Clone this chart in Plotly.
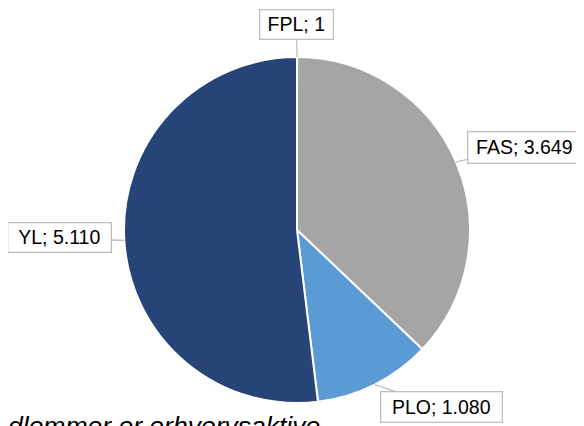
import math
import plotly.graph_objects as go

# Data
labels = ["FPL", "FAS", "PLO", "YL"]
values = [1, 3649, 1080, 5110]
value_text = ["1", "3.649", "1.080", "5.110"]
colors = ["#ED7D31", "#A5A5A5", "#5B9BD5", "#264478"]
footnote = "dlemmer er erhvervsaktive"

W, H = 584, 426
OFF = 8  # page body margin shifts the figure
# pie geometry (figure pixels)
cx, cy, r = 297 - OFF, 230 - OFF, 173
dom_x = [(cx - r) / W, (cx + r) / W]
dom_y = [1 - (cy + r) / H, 1 - (cy - r) / H]

# label boxes: centre (page px) and size
box_centres = [(296.5, 24.5), (524.5, 148), (441.5, 407), (59.5, 238)]
box_sizes = [(75, 31), (115, 33), (123, 32), (105, 31)]

fig = go.Figure(go.Pie(
    labels=labels, values=values, sort=False, direction="clockwise", rotation=0,
    marker=dict(colors=colors, line=dict(color="white", width=2)),
    textinfo="none", hoverinfo="label+value", showlegend=False,
    domain=dict(x=dom_x, y=dom_y),
))

total = sum(values)
cum = 0
annotations = []
for lab, v, vt, (bx, by), (bw, bh) in zip(labels, values, value_text, box_centres, box_sizes):
    mid = (cum + v / 2) / total * 2 * math.pi
    cum += v
    px = cx + r * math.sin(mid)
    py = cy - r * math.cos(mid)
    annotations.append(dict(
        x=px / W, y=1 - py / H, xref="paper", yref="paper",
        text=f"{lab}; {vt}", showarrow=True, arrowhead=0, arrowwidth=1.3,
        arrowcolor="#BFBFBF", ax=(bx - OFF) - px, ay=(by - OFF) - py,
        width=bw - 3, height=bh - 3, align="center", valign="middle",
        bordercolor="#BFBFBF", borderwidth=1.3, borderpad=0, bgcolor="white",
        font=dict(family="Liberation Sans, Arial, sans-serif", size=19.5, color="#000000"),
    ))

annotations.append(dict(
    x=-2 / W, y=1 - (409 - OFF) / H, xref="paper", yref="paper", xanchor="left", yanchor="top",
    text=f"<i>{footnote}</i>", showarrow=False,
    font=dict(family="Liberation Sans, Arial, sans-serif", size=26.5, color="#000000"),
))

fig.update_layout(
    width=W, height=H, margin=dict(l=0, r=0, t=0, b=0),
    paper_bgcolor="white", plot_bgcolor="white",
    annotations=annotations,
)
fig.write_html("out.html")
